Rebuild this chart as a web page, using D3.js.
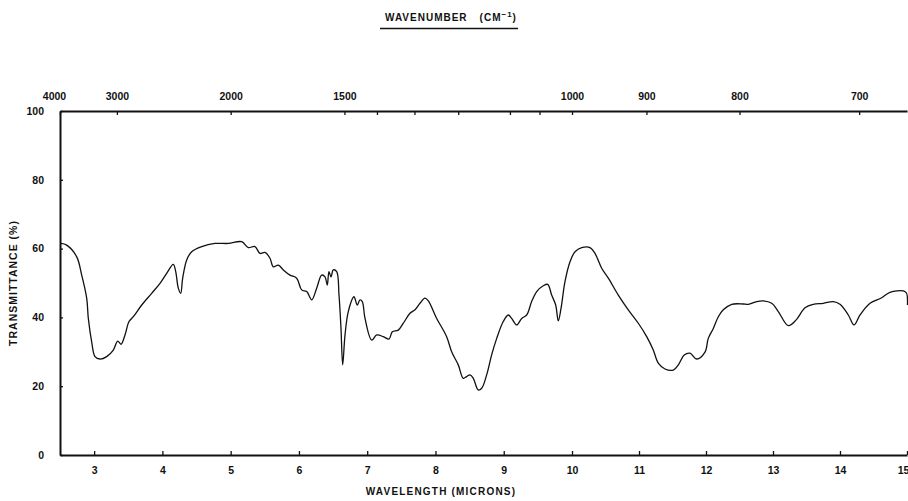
<!DOCTYPE html>
<html>
<head>
<meta charset="utf-8">
<script src="https://cdn.jsdelivr.net/npm/d3@7"></script>
<style>
  body { margin: 0; background: #fff; }
  svg text { font-family: "Liberation Sans", Arial, sans-serif; font-weight: bold; fill: #111; }
</style>
</head>
<body>
<svg id="chart" width="908" height="501"></svg>
<script>
'use strict';

// wavelength in microns
var wavelength = [2.515, 2.598, 2.745, 2.818, 2.891, 2.915, 2.964, 3.013, 3.086, 3.184,
  3.281, 3.345, 3.394, 3.452, 3.511, 3.574, 3.697, 3.843, 3.965, 4.063,
  4.16, 4.195, 4.233, 4.268, 4.297, 4.356, 4.429, 4.576, 4.77, 4.965,
  5.161, 5.258, 5.356, 5.429, 5.503, 5.576, 5.624, 5.698, 5.771, 5.869,
  5.967, 6.04, 6.114, 6.187, 6.26, 6.333, 6.382, 6.415, 6.44, 6.47,
  6.503, 6.553, 6.587, 6.616, 6.641, 6.675, 6.723, 6.806, 6.855, 6.894,
  6.928, 6.968, 7.066, 7.139, 7.236, 7.319, 7.368, 7.455, 7.529, 7.627,
  7.70, 7.773, 7.846, 7.895, 8.018, 8.164, 8.237, 8.334, 8.407, 8.457,
  8.506, 8.554, 8.627, 8.677, 8.75, 8.823, 8.897, 8.993, 9.067, 9.116,
  9.19, 9.263, 9.336, 9.409, 9.483, 9.579, 9.644, 9.702, 9.761, 9.799,
  9.839, 9.897, 9.971, 10.045, 10.145, 10.269, 10.343, 10.443, 10.542, 10.691,
  10.84, 10.99, 11.115, 11.213, 11.288, 11.388, 11.512, 11.587, 11.676, 11.761,
  11.861, 11.985, 12.034, 12.109, 12.184, 12.258, 12.384, 12.557, 12.631, 12.757,
  12.855, 12.981, 13.079, 13.228, 13.343, 13.478, 13.601, 13.751, 13.9, 14.0,
  14.124, 14.209, 14.299, 14.448, 14.622, 14.746, 14.945, 14.992, 15.007];

// transmittance in %
var transmittance = [61.5, 61.0, 57.6, 52.3, 45.6, 39.7, 32.9, 28.6, 27.9, 28.6,
  30.5, 33.1, 32.2, 34.9, 38.8, 40.2, 43.6, 47.0, 49.9, 52.8,
  55.4, 53.3, 48.5, 47.0, 51.4, 56.7, 59.1, 60.6, 61.5, 61.5,
  62.0, 60.3, 60.6, 58.6, 58.9, 57.2, 54.7, 55.2, 53.8, 52.3,
  51.4, 48.0, 47.5, 45.1, 48.5, 52.3, 51.8, 49.4, 53.3, 51.8,
  53.8, 53.3, 46.5, 36.8, 26.2, 34.9, 41.7, 46.0, 43.6, 45.1,
  44.6, 39.7, 33.4, 34.9, 34.4, 33.7, 35.8, 36.3, 38.3, 41.2,
  42.2, 44.1, 45.6, 44.8, 39.7, 34.4, 30.0, 26.2, 22.3, 22.8,
  23.3, 22.3, 18.9, 19.4, 23.3, 29.1, 33.9, 38.8, 40.7, 39.7,
  37.8, 39.7, 40.7, 44.6, 47.5, 49.2, 49.6, 46.5, 43.6, 39.0,
  42.6, 50.4, 56.2, 59.1, 60.3, 60.3, 58.6, 54.3, 51.4, 46.5,
  42.2, 38.3, 34.4, 30.5, 26.7, 25.0, 24.7, 26.2, 29.1, 29.6,
  27.9, 29.9, 33.9, 36.8, 40.2, 42.2, 43.8, 43.9, 43.8, 44.6,
  44.8, 44.1, 41.7, 37.6, 39.2, 42.8, 43.8, 44.1, 44.6, 43.8,
  40.7, 37.8, 40.7, 44.1, 45.7, 47.3, 47.7, 47.1, 43.6];

var micronTicks = [3, 4, 5, 6, 7, 8, 9, 10, 11, 12, 13, 14, 15];
var wavenumberTicks = [4000, 3000, 2000, 1500, 1400, 1300, 1200, 1100, 1050, 1000, 900, 800, 700];
var wavenumberLabels = [4000, 3000, 2000, 1500, 1000, 900, 800, 700];
var transTicks = [0, 20, 40, 60, 80, 100];

function drawChart() {
  var svg = d3.select("#chart");

  var x = d3.scaleLinear().domain([2.5, 10, 15]).range([60, 572, 907]);
  var y = d3.scaleLinear().domain([0, 100]).range([455, 111]);

  // bottom axis (microns)
  var bottomAxis = svg.append("g")
    .attr("transform", "translate(0," + y(0) + ")")
    .call(d3.axisBottom(x).tickValues(micronTicks).tickSize(-4).tickSizeOuter(0).tickPadding(12));
  // last label sits against the right edge, like the scan
  bottomAxis.selectAll(".tick text").filter(function (d) { return d === 15; }).attr("dx", -4);

  // top axis (wavenumber)
  var topAxis = svg.append("g")
    .attr("transform", "translate(0," + y(100) + ")")
    .call(d3.axisTop(x)
      .tickValues(wavenumberTicks.map(function (w) { return 10000 / w; }))
      .tickFormat(function (d) {
        var w = Math.round(10000 / d);
        return wavenumberLabels.indexOf(w) >= 0 ? w : "";
      })
      .tickSize(-4).tickSizeOuter(0).tickPadding(11));
  topAxis.selectAll(".tick text").filter(function (d) { return Math.round(10000 / d) === 4000; }).attr("dx", -6);

  // left axis (transmittance)
  var leftAxis = svg.append("g")
    .attr("transform", "translate(" + x(2.5) + ",0)")
    .call(d3.axisLeft(y).tickValues(transTicks).tickSize(-3).tickSizeOuter(0).tickPadding(16));

  [bottomAxis, topAxis, leftAxis].forEach(function (g) {
    g.select(".domain").attr("stroke", "#111").attr("stroke-width", 2);
    g.selectAll(".tick line").attr("stroke", "#111").attr("stroke-width", 1.3);
    g.selectAll(".tick text").style("font-size", "10.5px").style("font-family", "Liberation Sans, Arial, sans-serif");
  });

  // spectrum trace
  var pts = wavelength.map(function (w, i) { return [w, transmittance[i]]; });
  var line = d3.line()
    .x(function (d) { return x(d[0]); })
    .y(function (d) { return y(d[1]); })
    .curve(d3.curveCatmullRom.alpha(0.5));

  svg.append("path")
    .datum(pts)
    .attr("fill", "none")
    .attr("stroke", "#111")
    .attr("stroke-width", 1.3)
    .attr("stroke-linejoin", "round")
    .attr("d", line);

  // title
  var title = svg.append("text")
    .attr("x", 385)
    .attr("y", 21)
    .style("font-size", "10px")
    .style("letter-spacing", "1px");
  title.append("tspan").text("WAVENUMBER");
  title.append("tspan").attr("dx", 12).text("(CM");
  title.append("tspan").attr("dy", -4).style("font-size", "8px").text("\u22121");
  title.append("tspan").attr("dy", 4).text(")");

  svg.append("line")
    .attr("x1", 380).attr("x2", 518)
    .attr("y1", 28.5).attr("y2", 28.5)
    .attr("stroke", "#111").attr("stroke-width", 1.3);

  // axis titles
  svg.append("text")
    .attr("transform", "translate(17,283) rotate(-90)")
    .attr("text-anchor", "middle")
    .style("font-size", "10.5px")
    .style("letter-spacing", "1px")
    .text("TRANSMITTANCE (%)");

  svg.append("text")
    .attr("x", 441)
    .attr("y", 495)
    .attr("text-anchor", "middle")
    .style("font-size", "10px")
    .style("letter-spacing", "1.2px")
    .text("WAVELENGTH (MICRONS)");
}

drawChart();
</script>
</body>
</html>
